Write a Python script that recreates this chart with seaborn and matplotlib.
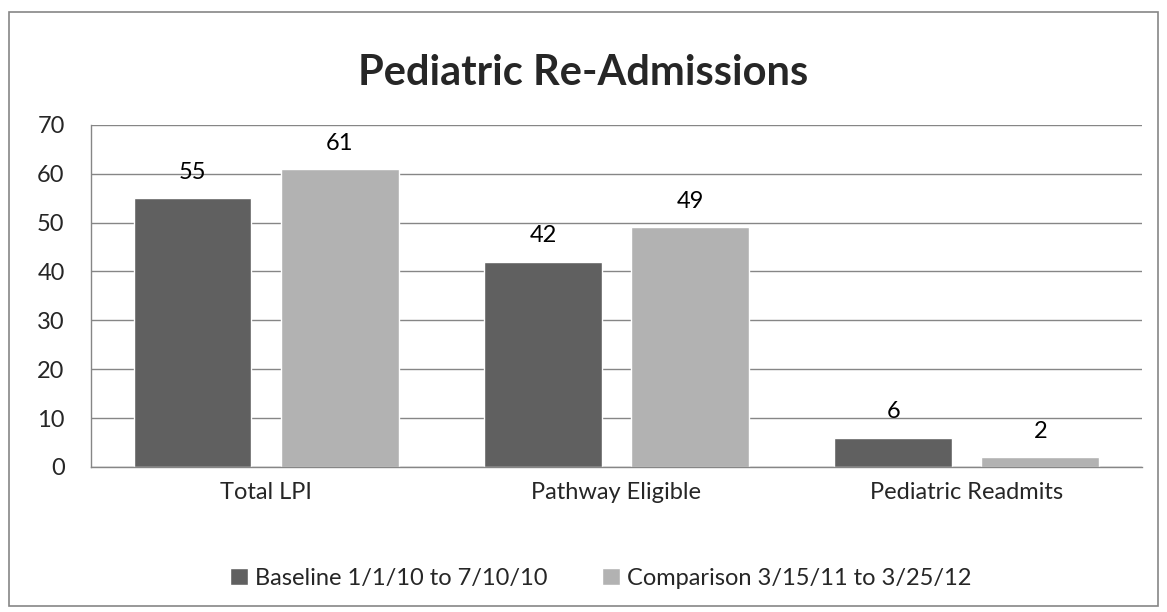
import pandas as pd
import seaborn as sns
import matplotlib.pyplot as plt
from matplotlib.patches import Rectangle

# data
categories = ["Total LPI", "Pathway Eligible", "Pediatric Readmits"]
series = ["Baseline 1/1/10 to 7/10/10", "Comparison 3/15/11 to 3/25/12"]
baseline = [55, 42, 6]
comparison = [61, 49, 2]
colors = ["#606060", "#b2b2b2"]

df = pd.DataFrame({
    "category": categories * 2,
    "series": [series[0]] * 3 + [series[1]] * 3,
    "value": baseline + comparison,
})

sns.set_style("white")
plt.rcParams["font.family"] = ["Lato", "DejaVu Sans"]

fig = plt.figure(figsize=(11.67, 6.12), dpi=100)
ax = fig.add_axes([0.078, 0.237, 0.9005, 0.559])

sns.barplot(data=df, x="category", y="value", hue="series", order=categories,
            hue_order=series, palette=colors, width=0.84, gap=0.2,
            saturation=1, ax=ax, legend=True)

for c in ax.containers:
    ax.bar_label(c, fmt="%d", padding=11, fontsize=17, color="black")

ax.set_ylim(0, 70)
ax.set_yticks(range(0, 71, 10))
ax.set_xlim(-0.5, 2.5)
ax.grid(axis="y", color="#868686", linewidth=1)
ax.set_axisbelow(True)
ax.set_xlabel("")
ax.set_ylabel("")
for s in ["top", "right"]:
    ax.spines[s].set_visible(False)
for s in ["left", "bottom"]:
    ax.spines[s].set_color("#868686")
    ax.spines[s].set_linewidth(1)
ax.tick_params(axis="both", labelsize=17, length=0)
ax.tick_params(axis="y", pad=19)
ax.tick_params(axis="x", pad=11)

ax.legend(loc="upper center", bbox_to_anchor=(0.485, -0.232), ncol=2, frameon=False,
          fontsize=17, handlelength=0.75, handleheight=0.75, handletextpad=0.3,
          columnspacing=2.3)

fig.suptitle("Pediatric Re-Admissions", fontsize=30, fontweight="bold", y=0.912)

fig.patches.append(Rectangle((9 / 1167, 6 / 612), 1149 / 1167, 594 / 612,
                             transform=fig.transFigure, fill=False,
                             edgecolor="#868686", linewidth=1.2))

fig.savefig("out.png", dpi=100)
